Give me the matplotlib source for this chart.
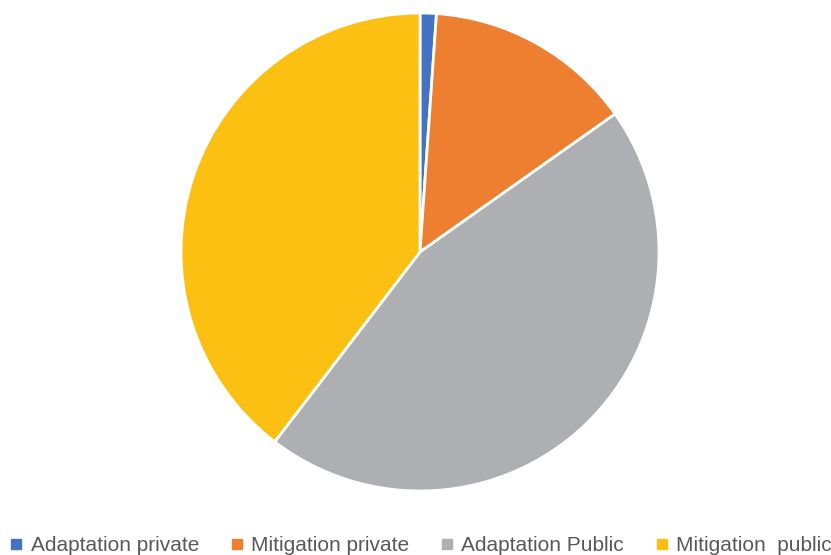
import matplotlib.pyplot as plt
from matplotlib.lines import Line2D

labels = ['Adaptation private', 'Mitigation private', 'Adaptation Public', 'Mitigation  public']
shares = [1.1, 14.1, 45.2, 39.6]
colors = ['#4472C4', '#EE7F31', '#AEAFB2', '#FBC012']

plt.rcParams['font.family'] = ['Liberation Sans', 'DejaVu Sans']

fig = plt.figure(figsize=(8.31, 5.55), dpi=100)
# pie centre around (420, 252) px, radius ~239 px
r = 239
ax = fig.add_axes([(420 - r) / 831, (555 - 252 - r) / 555, 2 * r / 831, 2 * r / 555])
wedges, _ = ax.pie(shares, colors=colors, startangle=90, counterclock=False,
                   wedgeprops={'edgecolor': 'white', 'linewidth': 2})
ax.set_xlim(-1.0, 1.0)
ax.set_ylim(-1.0, 1.0)
ax.set_aspect('equal')

handles = [Line2D([], [], marker='s', linestyle='none', markersize=6.5,
                  markerfacecolor=c, markeredgecolor=c) for c in colors]
fig.legend(handles, labels, loc='lower center', bbox_to_anchor=(0.507, -0.034), ncol=4,
           frameon=False, fontsize=15, labelcolor='#595959',
           handlelength=0.5, handletextpad=0.45, columnspacing=1.55)

fig.savefig('out.png', dpi=100)
